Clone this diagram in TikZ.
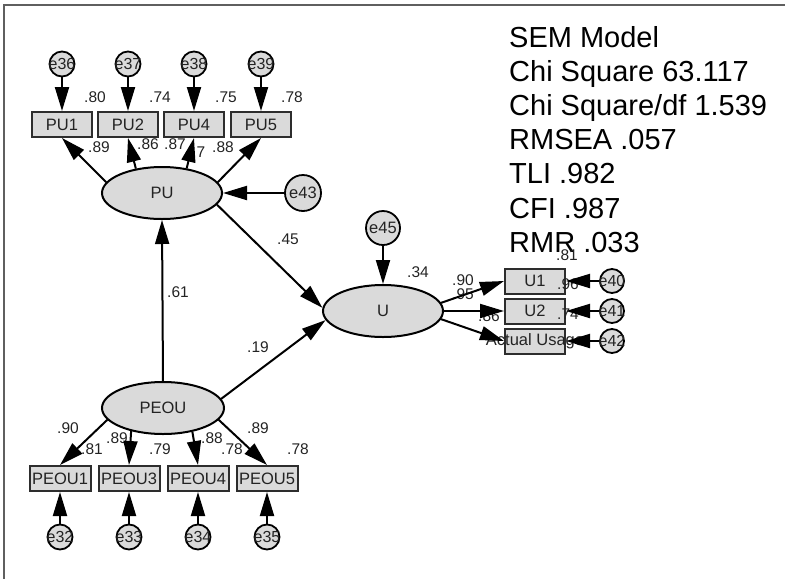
\documentclass[tikz,border=0pt]{standalone}
\usepackage{fontspec}
\setmainfont{Liberation Sans}
\usetikzlibrary{arrows.meta,shapes.geometric}
\definecolor{nodefill}{RGB}{218,218,218}
\definecolor{boxedge}{RGB}{45,45,45}
\definecolor{framegray}{RGB}{95,95,95}
\definecolor{labelgray}{RGB}{35,35,35}

\begin{document}
\begin{tikzpicture}[x=1pt,y=-1pt,
  obs/.style={draw=boxedge,line width=2pt,fill=nodefill,minimum width=60pt,
    minimum height=25pt,inner sep=0pt,text=labelgray,font=\fontsize{16.5}{16.5}\selectfont},
  lat/.style={ellipse,draw=black,line width=2pt,fill=nodefill,minimum width=120pt,
    minimum height=52pt,inner sep=0pt,text=labelgray,font=\fontsize{16.5}{16.5}\selectfont},
  err/.style={circle,draw=black,line width=1.8pt,fill=nodefill,minimum size=25pt,
    inner sep=0pt,text=labelgray,font=\fontsize{16}{16}\selectfont},
  bigerr/.style={err,minimum size=36pt,font=\fontsize{16.5}{16.5}\selectfont},
  coef/.style={font=\fontsize{15.5}{15.5}\selectfont,text=labelgray,inner sep=0pt},
  conn/.style={draw=black,line width=2pt,-{Triangle[length=24pt,width=14pt]}},
  fitline/.style={anchor=base west,font=\fontsize{29}{29}\selectfont,inner sep=0pt,text=black},
]
\useasboundingbox (0,0) rectangle (785,579);

% frame edges
\draw[framegray,line width=1.5pt] (3,5) -- (785,5);
\draw[framegray,line width=1.5pt] (4,5) -- (4,579);

% fit statistics
\node[fitline] (fitA) at (509,47)    {SEM Model};
\node[fitline] (fitB) at (509,81.2)  {Chi Square 63.117};
\node[fitline] (fitC) at (509,115.4) {Chi Square/df 1.539};
\node[fitline] (fitD) at (509,149.6) {RMSEA .057};
\node[fitline] (fitE) at (509,183.8) {TLI .982};
\node[fitline] (fitF) at (509,218)   {CFI .987};
\node[fitline] (fitG) at (509,252.2) {RMR .033};

% PU measurement part
\node[err] (e36) at (62,64)  {\makebox[0pt]{e36}};
\node[err] (e37) at (128,64) {\makebox[0pt]{e37}};
\node[err] (e38) at (194,64) {\makebox[0pt]{e38}};
\node[err] (e39) at (261,64) {\makebox[0pt]{e39}};
\node[obs] (PU1) at (62,124.5)  {PU1};
\node[obs] (PU2) at (128,124.5) {PU2};
\node[obs] (PU4) at (194,124.5) {PU4};
\node[obs] (PU5) at (261,124.5) {PU5};
\node[lat] (PU) at (162,193) {PU};
\node[bigerr] (e43) at (303,193) {\makebox[0pt]{e43}};

% U part
\node[bigerr,minimum size=34pt] (e45) at (383,228) {\makebox[0pt]{e45}};
\node[lat] (U) at (383,311) {U};
\node[obs] (U1) at (535,281) {U1};
\node[obs] (U2) at (535,311) {U2};
\node[obs] (AU) at (535,341) {\makebox[0pt]{Actual Usage}};
\node[err,minimum size=24pt] (e40) at (612,281) {\makebox[0pt]{e40}};
\node[err,minimum size=24pt] (e41) at (612,311) {\makebox[0pt]{e41}};
\node[err,minimum size=24pt] (e42) at (612,341) {\makebox[0pt]{e42}};

% PEOU measurement part
\node[lat,minimum width=122pt] (PEOU) at (163,408) {PEOU};
\node[obs,minimum width=61pt] (PEOU1) at (60,478.5)  {PEOU1};
\node[obs,minimum width=61pt] (PEOU3) at (129,478.5) {PEOU3};
\node[obs,minimum width=61pt] (PEOU4) at (198,478.5) {PEOU4};
\node[obs,minimum width=61pt] (PEOU5) at (267,478.5) {PEOU5};
\node[err] (e32) at (60,537)  {\makebox[0pt]{e32}};
\node[err] (e33) at (129,537) {\makebox[0pt]{e33}};
\node[err] (e34) at (198,537) {\makebox[0pt]{e34}};
\node[err] (e35) at (267,537) {\makebox[0pt]{e35}};

% coefficients
\node[coef] (r80) at (95,97)  {.80};
\node[coef] (r74) at (160,97) {.74};
\node[coef] (r75) at (226,97) {.75};
\node[coef] (r78) at (292,97) {.78};
\node[coef] (b89) at (99,147)  {.89};
\node[coef] (b86) at (148,144) {.86};
\node[coef] (b87) at (175,144) {.87};
\node[coef] (bx7) at (201,152) {7};
\node[coef] (b88) at (223,147) {.88};

\node[coef] (s45) at (288,239) {.45};
\node[coef] (s61) at (178,292) {.61};
\node[coef] (s19) at (258,347) {.19};
\node[coef] (s34) at (418,272) {.34};

\node[coef] (u90) at (463,280) {.90};
\node[coef] (u95) at (463,294) {.95};
\node[coef] (u86) at (489,316) {.86};
\node[coef] (u81) at (567,255) {.81};
\node[coef] (u96) at (568,284) {.96};
\node[coef] (u74) at (568,314) {.74};

\node[coef] (p90) at (68,428)  {.90};
\node[coef] (p81) at (92,449)  {.81};
\node[coef] (p89) at (117,438) {.89};
\node[coef] (p79) at (160,449) {.79};
\node[coef] (p88) at (212,438) {.88};
\node[coef] (p78) at (232,449) {.78};
\node[coef] (q89) at (258,428) {.89};
\node[coef] (q78) at (298,449) {.78};

% error terms into PU indicators
\draw[conn] (e36) -- (PU1);
\draw[conn] (e37) -- (PU2);
\draw[conn] (e38) -- (PU4);
\draw[conn] (e39) -- (PU5);

% PU loadings
\draw[conn] (PU.169) -- (PU1.south);
\draw[conn] (PU.137) -- (PU2.south);
\draw[conn] (PU.45)  -- (PU4.south);
\draw[conn] (PU.11)  -- (PU5.south);
\draw[conn] (e43) -- (PU.east);

% structural paths
\draw[conn] (PEOU.north) -- (PU.south);
\draw[conn] (PU.348) -- (U.177);
\draw[conn] (PEOU.9) -- (U.189);
\draw[conn] (e45) -- (U.north);

% U loadings and errors
\draw[conn] (U.8)  -- (U1.west);
\draw[conn] (U.east) -- (U2.west);
\draw[conn] (U.-8) -- (AU.west);
\draw[conn] (e40) -- (U1.east);
\draw[conn] (e41) -- (U2.east);
\draw[conn] (e42) -- (AU.east);

% PEOU loadings and errors
\draw[conn] (PEOU.192) -- (PEOU1.north);
\draw[conn] (PEOU.216) -- (PEOU3.north);
\draw[conn] (PEOU.321) -- (PEOU4.north);
\draw[conn] (PEOU.348) -- (PEOU5.north);
\draw[conn] (e32) -- (PEOU1);
\draw[conn] (e33) -- (PEOU3);
\draw[conn] (e34) -- (PEOU4);
\draw[conn] (e35) -- (PEOU5);
\end{tikzpicture}
\end{document}
